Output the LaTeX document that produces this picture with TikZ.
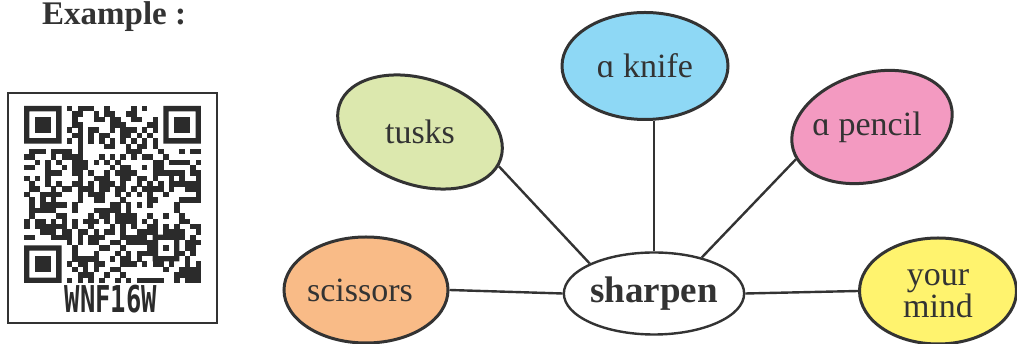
\documentclass[tikz,border=0pt]{standalone}
\usepackage{fontspec}
\setmainfont{Liberation Serif}
\newfontfamily\qrfont{DejaVu Sans Mono}
\usetikzlibrary{shapes.geometric}
\definecolor{ink}{HTML}{333333}
\definecolor{cknife}{HTML}{8ED8F5}
\definecolor{ctusks}{HTML}{DCE8AE}
\definecolor{cpencil}{HTML}{F39AC1}
\definecolor{cscissors}{HTML}{F9BB87}
\definecolor{cmind}{HTML}{FFF36E}
\begin{document}
\begin{tikzpicture}[x=1pt,y=1pt,
  bubble/.style={ellipse, draw=ink, line width=3pt, inner sep=0pt,
    minimum width=166pt, minimum height=107pt},
  bubtext/.style={text=ink, font=\fontsize{34}{28}\selectfont, align=center, inner sep=0pt},
  link/.style={draw=ink, line width=2.4pt},
  qr/.style={fill=ink!85!black, draw=none},
]
\useasboundingbox (0,0) rectangle (1017,344);

% title
\node[anchor=base west, inner sep=0pt, text=ink, font=\bfseries\fontsize{33}{40}\selectfont] (title) at (42,319) {Example :};

% QR box
\node[draw=ink, line width=2.2pt, fill=white, minimum width=209pt, minimum height=230pt, inner sep=0pt] (qrbox) at (112.5,136) {};
\pgfmathsetseed{4711}
\foreach \qi in {0,...,32}{
  \foreach \qj in {0,...,32}{
    \pgfmathtruncatemacro{\res}{(\qi<8 && \qj<8) || (\qi>24 && \qj<8) || (\qi<8 && \qj>24) || (\qi>23 && \qi<29 && \qj>23 && \qj<29) || \qi==6 || \qj==6}
    \ifnum\res=0
      \pgfmathtruncatemacro{\qbit}{rnd<0.52}
      \ifnum\qbit=1
        \fill[qr] ({24+\qi*5.36},{238-\qj*5.36}) rectangle ++(5.5,-5.5);
      \fi
    \fi
  }
}
% timing patterns
\foreach \qk in {8,10,...,24}{
  \fill[qr] ({24+\qk*5.36},{238-6*5.36}) rectangle ++(5.5,-5.5);
  \fill[qr] ({24+6*5.36},{238-\qk*5.36}) rectangle ++(5.5,-5.5);
}
% finder patterns
\foreach \fa/\fb in {0/0,26/0,0/26}{
  \fill[qr, even odd rule] ({24+\fa*5.36},{238-\fb*5.36}) rectangle ++({7*5.36},{-7*5.36})
     ({24+(\fa+1)*5.36},{238-(\fb+1)*5.36}) rectangle ++({5*5.36},{-5*5.36});
  \fill[qr] ({24+(\fa+2)*5.36},{238-(\fb+2)*5.36}) rectangle ++({3*5.36},{-3*5.36});
}
% alignment pattern
\fill[qr, even odd rule] ({24+24*5.36},{238-24*5.36}) rectangle ++({5*5.36},{-5*5.36})
   ({24+25*5.36},{238-25*5.36}) rectangle ++({3*5.36},{-3*5.36});
\fill[qr] ({24+26*5.36},{238-26*5.36}) rectangle ++(5.36,-5.36);

\node[inner sep=0pt, text=ink!85!black] (qrlabel) at (111,45) {\scalebox{1}[1.45]{\qrfont\bfseries\fontsize{25.5}{28}\selectfont WNF16W}};

% bubbles
\node[bubble, fill=cknife] (knife) at (645,278) {};
\node[bubtext] (knifet) at (knife) {ɑ knife};
\node[bubble, fill=ctusks, minimum width=170pt, minimum height=106pt, rotate=-18.5] (tusks) at (420,212) {};
\node[bubtext] (tuskst) at (tusks) {tusks};
\node[bubble, fill=cpencil, minimum width=164pt, minimum height=108pt, rotate=16] (pencil) at (872,217) {};
\node[bubtext] (pencilt) at ([xshift=-5pt]pencil.center) {ɑ pencil};
\node[bubble, fill=cscissors, minimum width=164pt, minimum height=106pt] (scissors) at (366,54) {};
\node[bubtext] (scissorst) at ([xshift=-6pt]scissors.center) {scissors};
\node[bubble, fill=cmind, minimum width=157pt, minimum height=106pt] (mind) at (938,53) {};
\node[bubtext] (mindt) at ([yshift=-3pt]mind.center) {your\\mind};
\node[ellipse, draw=ink, line width=2.4pt, fill=white, inner sep=0pt,
  minimum width=172pt, minimum height=82pt, text=ink,
  font=\bfseries\fontsize{37}{40}\selectfont] (sharpen) at (654,50.5) {sharpen};

% links
\draw[link] (sharpen.north) -- (knife.south -| sharpen.north);
\draw[link] (sharpen.155) -- (tusks.-5);
\draw[link] (sharpen.37) -- (pencil.187);
\draw[link] (sharpen.west) -- (scissors.east);
\draw[link] (sharpen.east) -- (mind.west);
\end{tikzpicture}
\end{document}
